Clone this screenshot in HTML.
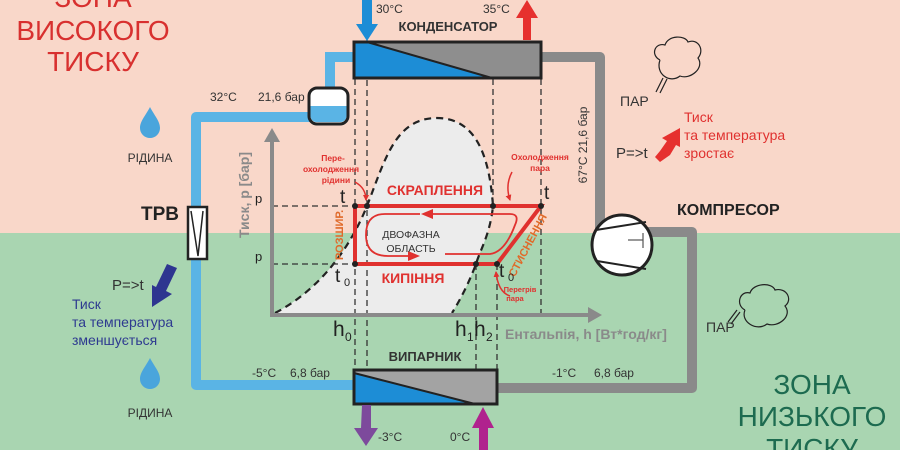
<!DOCTYPE html>
<html><head><meta charset="utf-8"><style>
html,body{margin:0;padding:0;width:900px;height:450px;overflow:hidden}
svg{display:block;font-family:"Liberation Sans",sans-serif}
</style></head><body>
<svg width="900" height="450" viewBox="0 0 900 450" xmlns="http://www.w3.org/2000/svg">
<defs>
<marker id="ra" markerWidth="6" markerHeight="6" refX="5" refY="3" orient="auto" markerUnits="userSpaceOnUse"><path d="M0,0 L6,3 L0,6z" fill="#e0312f"/></marker>
</defs>
<rect x="0" y="0" width="900" height="233" fill="#f9d7c9"/>
<rect x="0" y="233" width="900" height="217" fill="#a9d5b1"/>

<!-- zone texts -->
<g fill="#d8302f" font-size="28" text-anchor="middle">
<text x="93" y="7">ЗОНА</text><text x="93" y="40">ВИСОКОГО</text><text x="93" y="71">ТИСКУ</text></g>
<g fill="#1d6b50" font-size="28" text-anchor="middle">
<text x="812" y="394">ЗОНА</text><text x="812" y="426">НИЗЬКОГО</text><text x="812" y="458">ТИСКУ</text></g>

<!-- pipes -->
<path d="M353,57 H330 V92" fill="none" stroke="#5ab4e5" stroke-width="10"/>
<path d="M310,117 H196 V385 H353" fill="none" stroke="#5ab4e5" stroke-width="10" stroke-linejoin="round"/>
<path d="M542,57 H600 V232 H692 V388 H497" fill="none" stroke="#8a8a8a" stroke-width="10" stroke-linejoin="round"/>

<!-- receiver -->
<rect x="309" y="88" width="39" height="36" rx="8" fill="#fff"/>
<path d="M310.5,106 H346.5 V116 a6,6 0 0 1 -6,6 H316.5 a6,6 0 0 1 -6,-6z" fill="#5ab4e5"/>
<rect x="309" y="88" width="39" height="36" rx="8" fill="none" stroke="#222" stroke-width="3"/>

<!-- TRV -->
<rect x="188" y="207" width="19" height="52" fill="#fff" stroke="#222" stroke-width="2.5"/>
<path d="M191,211 L198,256 L203,211" fill="none" stroke="#222" stroke-width="1.5"/>
<text x="160" y="220" font-size="19" font-weight="bold" fill="#222" text-anchor="middle">ТРВ</text>

<!-- chart area -->
<path d="M275,313 C310,295 345,260 367,206 C385,160 395,118 437,118 C480,118 490,165 493,206 C490,235 480,250 476,264 C468,285 460,300 452,313 Z" fill="#ececec"/>
<path d="M275,313 C310,295 345,260 367,206 C385,160 395,118 437,118 C480,118 490,165 493,206 C490,235 480,250 476,264 C468,285 460,300 452,313" fill="none" stroke="#222" stroke-width="2.2" stroke-dasharray="7,5"/>

<!-- dashed verticals -->
<g stroke="#333" stroke-width="1.3" stroke-dasharray="6,4">
<line x1="355" y1="79" x2="355" y2="369"/>
<line x1="367" y1="10" x2="367" y2="369"/>
<line x1="493" y1="79" x2="493" y2="206"/>
<line x1="476" y1="264" x2="476" y2="405"/>
<line x1="497" y1="264" x2="497" y2="369"/>
<line x1="541" y1="79" x2="541" y2="315"/>
<line x1="272" y1="206" x2="355" y2="206"/>
<line x1="272" y1="264" x2="355" y2="264"/>
</g>

<!-- axes -->
<path d="M272,140 V315 H590" fill="none" stroke="#8a8a8a" stroke-width="4"/>
<path d="M264,142 L272,128 L280,142z" fill="#8a8a8a"/>
<path d="M588,307 L602,315 L588,323z" fill="#8a8a8a"/>

<!-- cycle -->
<path d="M355,206 H541 L497,264 H355 Z" fill="none" stroke="#e0312f" stroke-width="4" stroke-linejoin="miter"/>
<path d="M430,214 H510 Q520,214 515,225 Q505,252 490,254 H445" fill="none" stroke="#e0312f" stroke-width="1.8"/>
<path d="M420,214 H385 Q366,214 366,235 Q366,256 388,256 H410" fill="none" stroke="#e0312f" stroke-width="1.8"/>
<path d="M433,209 L421,214 L433,219z" fill="#e0312f"/>
<path d="M408,251 L420,256 L408,261z" fill="#e0312f"/>
<g fill="#222">
<circle cx="355" cy="206" r="3"/><circle cx="367" cy="206" r="3"/><circle cx="493" cy="206" r="3"/><circle cx="541" cy="206" r="3"/>
<circle cx="355" cy="264" r="3"/><circle cx="476" cy="264" r="3"/><circle cx="497" cy="264" r="3"/></g>

<g fill="#e0312f" font-weight="bold">
<text x="435" y="195" font-size="14" text-anchor="middle">СКРАПЛЕННЯ</text>
<text x="413" y="283" font-size="14" text-anchor="middle">КИПІННЯ</text>
<text x="333" y="161" font-size="8.5" text-anchor="middle">Пере-</text>
<text x="331" y="172" font-size="8.5" text-anchor="middle">охолодження</text>
<text x="336" y="183" font-size="8.5" text-anchor="middle">рідини</text>
<text x="540" y="160" font-size="8.5" text-anchor="middle">Охолодження</text>
<text x="540" y="171" font-size="8.5" text-anchor="middle">пара</text>
<text x="520" y="292" font-size="7.5" text-anchor="middle">Перегрів</text>
<text x="515" y="301" font-size="7.5" text-anchor="middle">пара</text>
</g>
<text transform="translate(343,235) rotate(-90)" font-size="11" font-weight="bold" fill="#e06a2a" text-anchor="middle">РОЗШИР.</text>
<text transform="translate(531,247) rotate(-62)" font-size="11" font-weight="bold" fill="#e06a2a" text-anchor="middle">СТИСНЕННЯ</text>
<g fill="none" stroke="#e0312f" stroke-width="1.5">
<path d="M355,182 Q366,188 366,200" marker-end="url(#ra)"/>
<path d="M512,172 Q505,185 510,200" marker-end="url(#ra)"/>
<path d="M510,296 Q498,292 496,272" marker-end="url(#ra)"/>
</g>
<g fill="#333" font-size="10.5" text-anchor="middle">
<text x="411" y="238">ДВОФАЗНА</text><text x="411" y="252">ОБЛАСТЬ</text></g>

<g fill="#222">
<text x="340" y="203" font-size="19">t</text>
<text x="544" y="199" font-size="19">t</text>
<text x="335" y="282" font-size="19">t</text><text x="344" y="286" font-size="11">0</text>
<text x="499" y="277" font-size="19">t</text><text x="508" y="281" font-size="11">0</text>
<text x="333" y="336" font-size="21">h</text><text x="345" y="341" font-size="12">0</text>
<text x="455" y="336" font-size="21">h</text><text x="467" y="341" font-size="12">1</text>
<text x="474" y="336" font-size="21">h</text><text x="486" y="341" font-size="12">2</text>
<text x="255" y="203" font-size="13">p</text>
<text x="255" y="261" font-size="13">p</text>
</g>
<text transform="translate(249,195) rotate(-90)" font-size="14" font-weight="bold" fill="#8a8a8a" text-anchor="middle">Тиск, р [бар]</text>
<text x="505" y="339" font-size="14" font-weight="bold" fill="#8a8a8a">Ентальпія, h [Вт*год/кг]</text>

<!-- condenser -->
<rect x="354" y="42" width="187" height="36" fill="#8e8e8e"/>
<path d="M354,42 H367 L492,78 H354z" fill="#1d8dd6"/>
<rect x="354" y="42" width="187" height="36" fill="none" stroke="#222" stroke-width="3"/>
<line x1="367" y1="42" x2="492" y2="78" stroke="#222" stroke-width="2"/>
<text x="448" y="31" font-size="13" font-weight="bold" fill="#333" text-anchor="middle">КОНДЕНСАТОР</text>
<path d="M362,0 H372 V24 H378 L367,41 L356,24 H362z" fill="#1d8dd6"/>
<path d="M523,40 V18 H516 L527,0 L538,18 H531 V40z" fill="#e6302e"/>
<text x="376" y="13" font-size="12" fill="#333">30°C</text>
<text x="483" y="13" font-size="12" fill="#333">35°C</text>

<!-- evaporator -->
<rect x="354" y="370" width="143" height="34" fill="#a3a3a3"/>
<path d="M354,373 L475,404 H354z" fill="#1d8dd6"/>
<rect x="354" y="370" width="143" height="34" fill="none" stroke="#222" stroke-width="3"/>
<line x1="354" y1="373" x2="475" y2="404" stroke="#222" stroke-width="2"/>
<text x="425" y="361" font-size="13" font-weight="bold" fill="#333" text-anchor="middle">ВИПАРНИК</text>
<path d="M362,405 H371 V428 H378 L366,446 L354,428 H361z" fill="#7d4a9c"/>
<path d="M479,450 V428 H472 L483,407 L494,428 H488 V450z" fill="#b0228e"/>
<text x="378" y="441" font-size="12" fill="#333">-3°C</text>
<text x="450" y="441" font-size="12" fill="#333">0°C</text>

<!-- labels -->
<g fill="#333" font-size="12">
<text x="210" y="101">32°C</text><text x="258" y="101">21,6 бар</text>
<text x="252" y="377">-5°C</text><text x="290" y="377">6,8 бар</text>
<text x="552" y="377">-1°C</text><text x="594" y="377">6,8 бар</text>
</g>
<text transform="translate(587,145) rotate(-90)" font-size="12" fill="#333" text-anchor="middle">67°C  21,6 бар</text>

<!-- compressor -->
<circle cx="622" cy="245" r="30" fill="#fff" stroke="#222" stroke-width="3"/>
<line x1="596" y1="230" x2="646" y2="222" stroke="#222" stroke-width="2"/>
<line x1="597" y1="261" x2="646" y2="269" stroke="#222" stroke-width="2"/>
<line x1="643" y1="233" x2="643" y2="248" stroke="#555" stroke-width="1.2"/>
<line x1="643" y1="240" x2="628" y2="240" stroke="#555" stroke-width="1.2"/>
<text x="677" y="215" font-size="16" font-weight="bold" fill="#222">КОМПРЕСОР</text>

<!-- drops -->
<g fill="#4aa5dc">
<path d="M150,107 C146,115 140,121 140,128 a10,10 0 0 0 20,0 C160,121 154,115 150,107z"/>
<path d="M150,358 C146,366 140,372 140,379 a10,10 0 0 0 20,0 C160,372 154,366 150,358z"/></g>
<g fill="#333" font-size="12" text-anchor="middle"><text x="150" y="162">РІДИНА</text><text x="150" y="417">РІДИНА</text></g>

<!-- left arrow -->
<path d="M177,268 L167,264 L156,287 L152,285 L152,307 L172,294 L166,291z" fill="#2e3590"/>
<text x="112" y="290" font-size="15" fill="#333">P=&gt;t</text>
<g fill="#2e3a90" font-size="14"><text x="72" y="309">Тиск</text><text x="72" y="327">та температура</text><text x="72" y="345">зменшується</text></g>

<!-- right -->
<text x="620" y="106" font-size="14" fill="#333">ПАР</text>
<text x="616" y="158" font-size="15" fill="#333">P=&gt;t</text>
<path d="M660,162 L670,155 L676,145 L680,147 L680,128 L662,138 L667,141 L660,151 L655,157z" fill="#e6302e"/>
<g fill="#e0312f" font-size="14"><text x="684" y="122">Тиск</text><text x="684" y="140">та температура</text><text x="684" y="158">зростає</text></g>
<g fill="none" stroke="#222" stroke-width="1.2">
<path d="M660,60 C650,55 655,42 665,45 C668,35 685,35 688,42 C698,38 705,50 698,58 C705,68 690,80 680,76 C670,84 655,74 660,60"/>
<path d="M656,92 L663,78 M660,93 L667,79"/>
<path d="M745,310 C735,305 740,290 750,293 C753,283 772,282 775,290 C787,287 793,300 785,306 C793,316 778,328 767,324 C757,332 740,322 745,310"/>
<path d="M728,322 L737,310 M731,324 L740,312"/>
</g>
<text x="706" y="332" font-size="14" fill="#333">ПАР</text>
</svg>
</body></html>
